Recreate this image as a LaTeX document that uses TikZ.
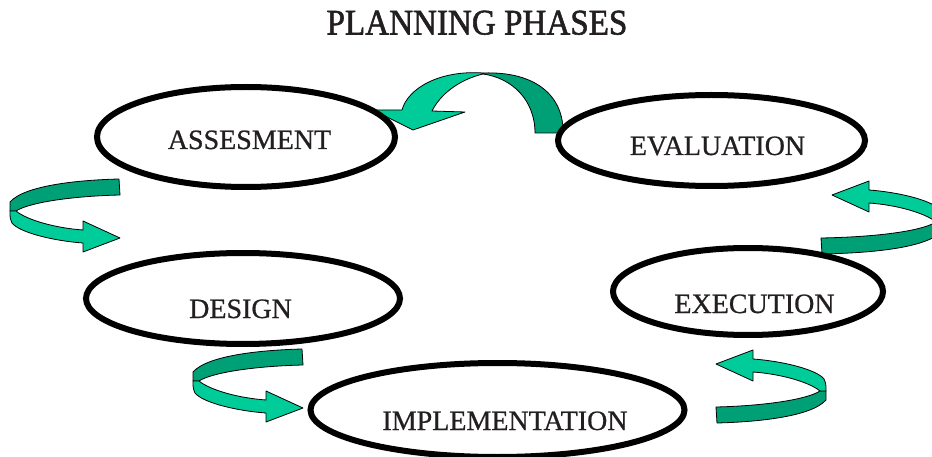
\documentclass[tikz,border=0pt]{standalone}
\usepackage{fontspec}
\usepackage{graphicx}
\setmainfont{Liberation Serif}
\newfontfamily\titlefont[FakeBold=1.6]{Liberation Serif}
\newfontfamily\phasefont[FakeBold=0.7]{Liberation Serif}
\usetikzlibrary{shapes.geometric}

\definecolor{ribbonlightc}{HTML}{00CC99}
\definecolor{ribbondarkc}{HTML}{00A077}
\definecolor{inkc}{HTML}{231F20}

\tikzset{
  phase/.style={ellipse, draw=black, line width=6pt, fill=white, inner sep=0pt},
  phaselabel/.style={anchor=base, inner sep=0pt, text=inkc, font=\phasefont\fontsize{28}{30}\selectfont},
  ribbonlight/.style={draw=black, line width=0.8pt, fill=ribbonlightc, line join=round},
  ribbondark/.style={draw=black, line width=0.8pt, fill=ribbondarkc, line join=round},
}

% A ribbon arrow wound once round an upright post:
% #1 = placement of the local frame, #2 = x of the tail end
\newcommand\sideribbon[2]{%
  \begin{scope}[#1]
    \draw[ribbondark] (#2,4) .. controls (80,5) and (25,10) .. (10,27) -- (10,36) -- (16,36)
      .. controls (30,27) and (75,21) .. (#2+1,20) -- cycle;
    \draw[ribbonlight] (10,36) .. controls (10,43) .. (12,48)
      .. controls (20,58) and (55,66) .. (83,68) -- (83,77) -- (120,63) -- (83,46) -- (83,55)
      .. controls (55,53) and (27,45) .. (16,36) -- cycle;
  \end{scope}}

\begin{document}
\begin{tikzpicture}[x=1pt,y=-1pt]
  \clip (0,0) rectangle (932,457);
  \fill[white] (0,0) rectangle (932,457);

  % title
  \node[anchor=base, inner sep=0pt, text=inkc, font=\titlefont\fontsize{36}{38}\selectfont]
    (title) at (477,34.5) {\scalebox{0.92}[1]{PLANNING PHASES}};

  % arched arrow from evaluation back to assessment
  \draw[ribbondark] (483,73) .. controls (538,71) and (564,98) .. (563,133) -- (535,133)
    .. controls (535,100) and (512,78) .. (483,74) -- cycle;
  \draw[ribbonlight] (483,73) .. controls (440,70) and (408,88) .. (402,110) -- (373,110)
    -- (413,130) -- (465,112) -- (432,111) .. controls (440,95) and (458,80) .. (483,74) -- cycle;

  % wound arrows between the phases
  \sideribbon{shift={(0,175)}}{119}
  \sideribbon{shift={(183,345)}}{119}
  \sideribbon{shift={(836,427)}, xscale=-1, yscale=-1}{119}
  \sideribbon{shift={(952,258)}, xscale=-1, yscale=-1}{130}

  % phases
  \node[phase, minimum width=298pt, minimum height=100pt] (assess) at (246,137) {};
  \node[phase, minimum width=307pt, minimum height=91pt] (evalu) at (711.5,140.5) {};
  \node[phase, minimum width=314pt, minimum height=91pt] (design) at (243,298.5) {};
  \node[phase, minimum width=270pt, minimum height=87pt] (exec) at (748,291.5) {};
  \node[phase, minimum width=374pt, minimum height=94pt] (impl) at (497.5,410) {};

  \node[phaselabel] (assessT) at (249.5,149) {ASSESMENT};
  \node[phaselabel] (evaluT) at (717.5,155) {EVALUATION};
  \node[phaselabel] (designT) at (240.5,318) {DESIGN};
  \node[phaselabel] (execT) at (754.5,313) {EXECUTION};
  \node[phaselabel] (implT) at (505,430) {IMPLEMENTATION};
\end{tikzpicture}
\end{document}
